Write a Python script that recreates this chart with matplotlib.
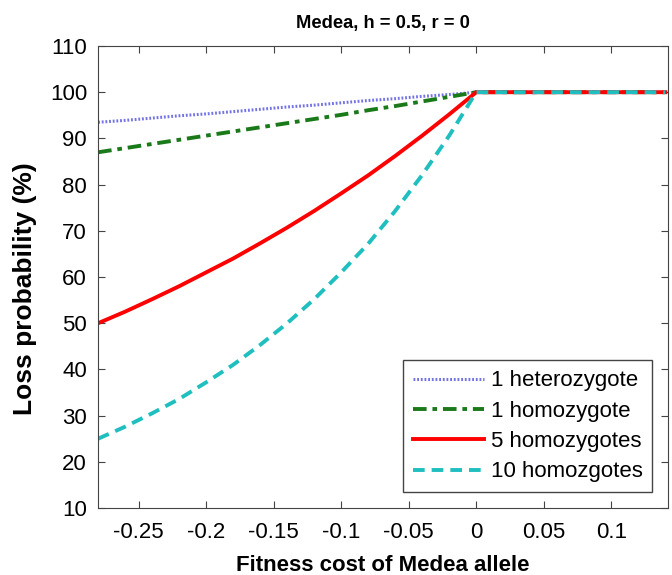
import matplotlib
matplotlib.use('Agg')
import matplotlib.pyplot as plt
import numpy as np

plt.rcParams['font.family'] = ['Liberation Sans', 'DejaVu Sans']

# fitness cost values
cost = [-0.28, -0.26, -0.24, -0.22, -0.20, -0.18, -0.16, -0.14,
        -0.12, -0.10, -0.08, -0.06, -0.04, -0.02, 0.0, 0.14]

het1 = [93.5, 93.9, 94.4, 94.9, 95.3, 95.8, 96.3, 96.8,
        97.2, 97.7, 98.2, 98.6, 99.1, 99.5, 100, 100]
hom1 = [87.0, 87.9, 88.8, 89.7, 90.6, 91.5, 92.4, 93.3,
        94.2, 95.1, 96.1, 97.0, 98.0, 99.0, 100, 100]
hom5 = [50.0, 52.5, 55.2, 58.0, 61.0, 64.0, 67.3, 70.7,
        74.3, 78.1, 82.0, 86.2, 90.6, 95.2, 100, 100]
hom10 = [25.0, 27.6, 30.5, 33.6, 37.2, 41.0, 45.3, 50.0,
         55.2, 61.0, 67.2, 74.3, 82.1, 90.6, 100, 100]

labels = ['1 heterozygote', '1 homozygote', '5 homozygotes', '10 homozgotes']

fig = plt.figure(figsize=(6.72, 5.75), dpi=100)
ax = fig.add_axes([0.146, 0.1165, 0.848, 0.8035])

ax.plot(cost, het1, color='#7373e6', ls=(0, (0.6, 0.6)), lw=2.2, label=labels[0])
ax.plot(cost, hom1, color='#1a7a1a', ls=(0, (3.5, 1.5, 1.2, 1.5)), lw=2.8, label=labels[1])
ax.plot(cost, hom5, color='#ff0000', ls='-', lw=2.8, label=labels[2])
ax.plot(cost, hom10, color='#1fbfbf', ls=(0, (3, 1.8)), lw=2.8, label=labels[3])

ax.set_xlim(-0.28, 0.142)
ax.set_ylim(10, 110)
ax.set_xticks([-0.25, -0.2, -0.15, -0.1, -0.05, 0, 0.05, 0.1])
ax.set_xticklabels(['-0.25', '-0.2', '-0.15', '-0.1', '-0.05', '0', '0.05', '0.1'])
ax.set_yticks(range(10, 111, 10))
ax.tick_params(direction='in', top=True, right=True, labelsize=16, length=5,
               color='#444444')
ax.tick_params(axis='y', pad=8)
ax.tick_params(axis='x', pad=10)
for s in ax.spines.values():
    s.set_color('#444444')

ax.set_xlabel('Fitness cost of Medea allele', fontsize=16, fontweight='bold', labelpad=9)
ax.set_ylabel('Loss probability (%)', fontsize=19, fontweight='bold')
ax.yaxis.set_label_coords(-0.107, 0.474)
ax.set_title('Medea, h = 0.5, r = 0', fontsize=13.2, fontweight='bold', pad=13)

leg = ax.legend(loc='lower right', fontsize=16, handlelength=3.2, fancybox=False,
                framealpha=1, edgecolor='#444444', borderaxespad=0.7,
                labelspacing=0.42, handletextpad=0.3, borderpad=0.45)
leg.get_frame().set_linewidth(1.0)

fig.savefig('out.png', dpi=100)
